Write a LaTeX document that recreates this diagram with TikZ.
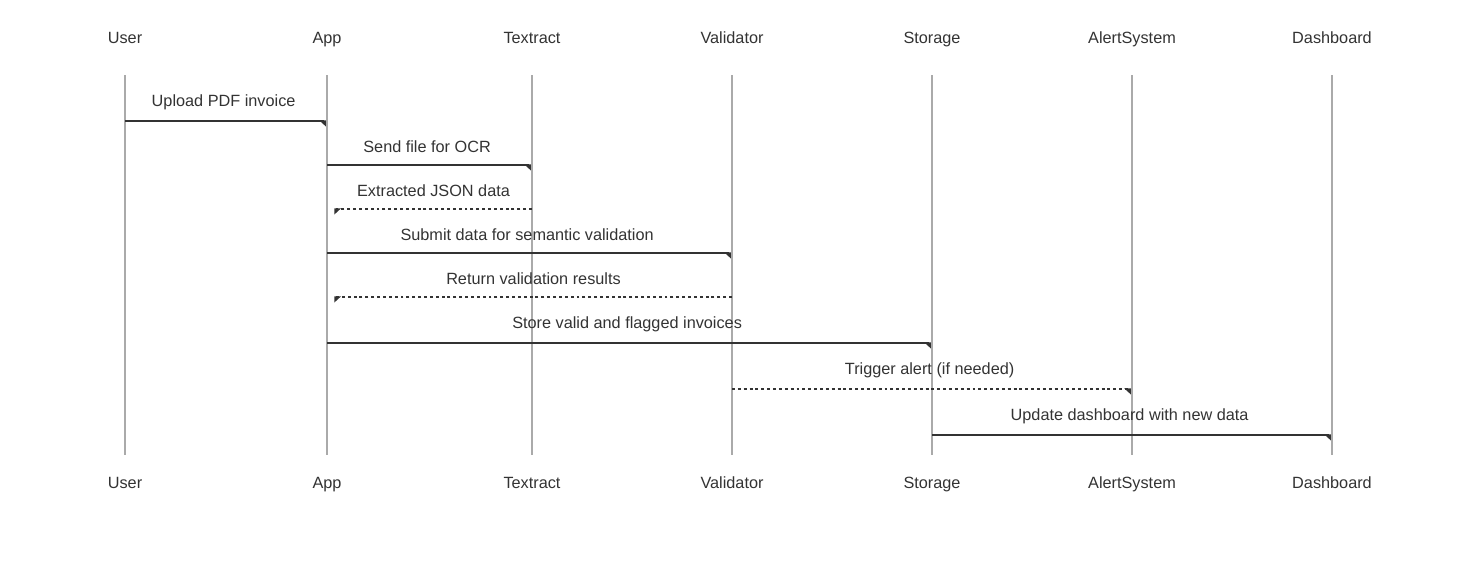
\documentclass[tikz,border=0pt]{standalone}
\usepackage{fontspec}
\setmainfont{Liberation Sans}
\usepackage{tikz}
\usetikzlibrary{arrows.meta,positioning,calc}
\definecolor{inkcolor}{RGB}{51,51,51}
\definecolor{lifecolor}{RGB}{170,170,170}
\tikzset{
  actor/.style={text=inkcolor, font=\fontsize{12.2}{14}\selectfont, inner sep=0pt, anchor=base},
  lifeline/.style={lifecolor, line width=1.5pt},
  msg/.style={inkcolor, line width=1.4pt, shorten >=0.8pt,
    -{Triangle[reversed,harpoon,swap,length=4.5pt,width=8pt]}},
  reply/.style={inkcolor, line width=1.4pt, dash pattern=on 2.2pt off 2.2pt, shorten >=5.5pt,
    -{Triangle[reversed,harpoon,length=4.5pt,width=8pt]}},
  msglabel/.style={text=inkcolor, font=\fontsize{12.2}{14}\selectfont, inner sep=0pt, anchor=base, xshift=-1.8pt},
  replylabel/.style={msglabel, xshift=4.8pt}
}
\begin{document}
\begin{tikzpicture}[x=0.75pt, y=-0.75pt]
    \useasboundingbox (0,0) rectangle (1457,561);
    % participants, top row
    \node[actor] (user)      at (125,43)  {User};
    \node[actor] (app)       at (327,43)  {App};
    \node[actor] (textract)  at (532,43)  {Textract};
    \node[actor] (validator) at (732,43)  {Validator};
    \node[actor] (storage)   at (932,43)  {Storage};
    \node[actor] (alert)     at (1132,43) {AlertSystem};
    \node[actor] (dashb)     at (1332,43) {Dashboard};
    % participants, bottom row
    \node[actor] (user-b)      at (125,488)  {User};
    \node[actor] (app-b)       at (327,488)  {App};
    \node[actor] (textract-b)  at (532,488)  {Textract};
    \node[actor] (validator-b) at (732,488)  {Validator};
    \node[actor] (storage-b)   at (932,488)  {Storage};
    \node[actor] (alert-b)     at (1132,488) {AlertSystem};
    \node[actor] (dashb-b)     at (1332,488) {Dashboard};
    % lifelines between the two rows
    \draw[lifeline] (user |- 0,75)      -- (user-b |- 0,455);
    \draw[lifeline] (app |- 0,75)       -- (app-b |- 0,455);
    \draw[lifeline] (textract |- 0,75)  -- (textract-b |- 0,455);
    \draw[lifeline] (validator |- 0,75) -- (validator-b |- 0,455);
    \draw[lifeline] (storage |- 0,75)   -- (storage-b |- 0,455);
    \draw[lifeline] (alert |- 0,75)     -- (alert-b |- 0,455);
    \draw[lifeline] (dashb |- 0,75)     -- (dashb-b |- 0,455);
    % messages (solid = call, dotted = return / async)
    \draw[msg] (user |- 0,121) -- (app |- 0,121)
      node[msglabel, midway, yshift=11.25pt] {Upload PDF invoice};
    \draw[msg] (app |- 0,165) -- (textract |- 0,165)
      node[msglabel, midway, yshift=9.75pt] {Send file for OCR};
    \draw[reply] (textract |- 0,209) -- (app |- 0,209)
      node[replylabel, midway, yshift=9.75pt] {Extracted JSON data};
    \draw[msg] (app |- 0,253) -- (validator |- 0,253)
      node[msglabel, midway, yshift=9.75pt] {Submit data for semantic validation};
    \draw[reply] (validator |- 0,297) -- (app |- 0,297)
      node[replylabel, midway, yshift=9.75pt] {Return validation results};
    \draw[msg] (app |- 0,343) -- (storage |- 0,343)
      node[msglabel, midway, yshift=11.25pt] {Store valid and flagged invoices};
    \draw[reply, shorten >=0.8pt, -{Triangle[reversed,harpoon,swap,length=4.5pt,width=8pt]}]
      (validator |- 0,389) -- (alert |- 0,389)
      node[msglabel, midway, yshift=11.25pt] {Trigger alert (if needed)};
    \draw[msg] (storage |- 0,435) -- (dashb |- 0,435)
      node[msglabel, midway, yshift=11.25pt] {Update dashboard with new data};
\end{tikzpicture}
\end{document}
